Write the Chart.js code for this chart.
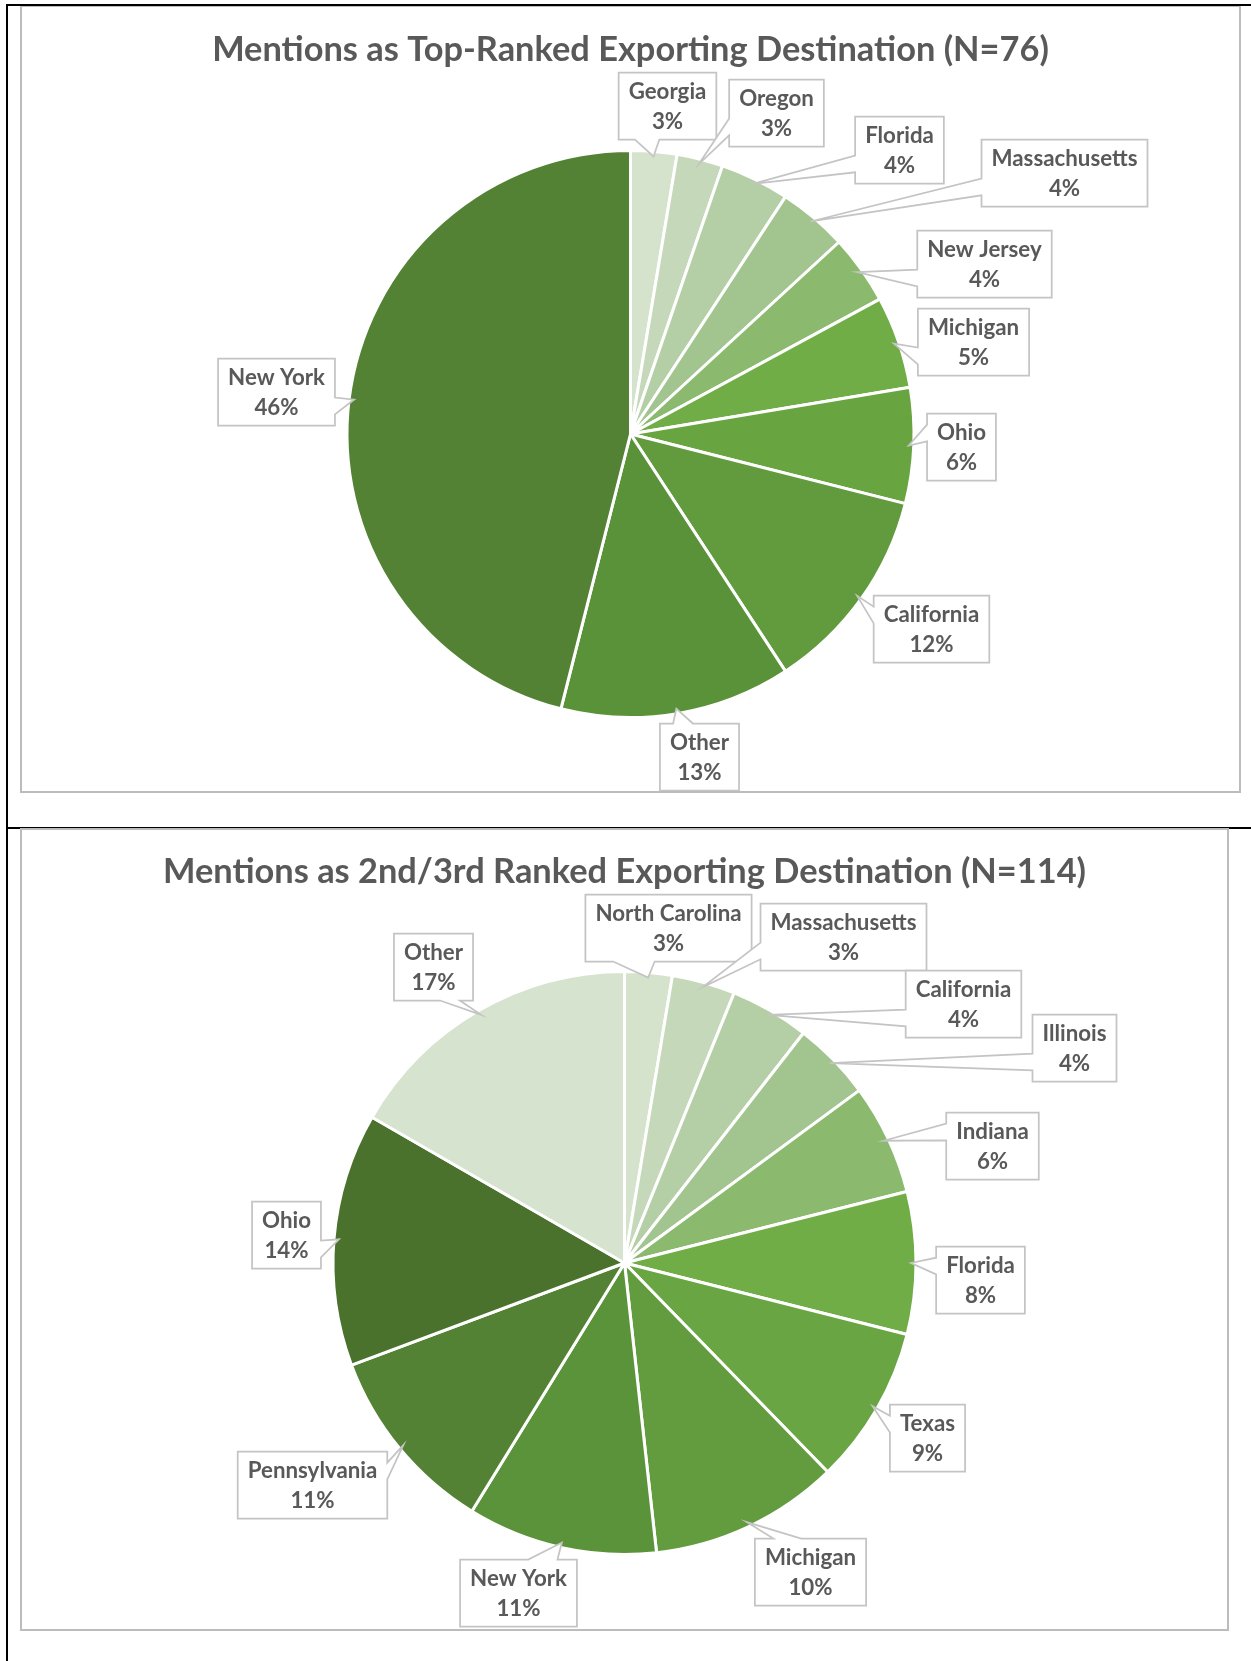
<!DOCTYPE html>
<html><head><meta charset="utf-8">
<script src="https://cdn.jsdelivr.net/npm/chart.js@4.4.0/dist/chart.umd.min.js"></script>
<style>
html,body{margin:0;padding:0;background:#fff;}
body{width:1251px;height:1661px;position:relative;overflow:hidden;}
.abs{position:absolute;}
.frame{border:2px solid #bcbcbc;box-sizing:border-box;pointer-events:none;}
</style></head><body>
<div class="abs" style="left:6px;top:4px;width:2px;height:1657px;background:#000"></div>
<div class="abs" style="left:6px;top:827px;width:1245px;height:2px;background:#000"></div>
<canvas id="c1" class="abs" style="left:21px;top:6px;" width="1219" height="786"></canvas>
<div class="abs frame" style="left:20px;top:5px;width:1221px;height:788px;"></div>
<div class="abs" style="left:6px;top:4px;width:1245px;height:2px;background:#000"></div>
<div class="abs" style="left:20px;top:828px;width:1209px;height:803px;background:#fff;"></div>
<canvas id="c2" class="abs" style="left:21px;top:829px;" width="1207" height="801"></canvas>
<div class="abs frame" style="left:20px;top:828px;width:1209px;height:803px;"></div>
<script>
// ---------- data ----------
const title1 = 'Mentions as Top-Ranked Exporting Destination (N=76)';
const states1 = ['Georgia','Oregon','Florida','Massachusetts','New Jersey','Michigan','Ohio','California','Other','New York'];
const mentions1 = [2,2,3,3,3,4,5,9,10,35];
const pctLabels1 = ['3%','3%','4%','4%','4%','5%','6%','12%','13%','46%'];

const title2 = 'Mentions as 2nd/3rd Ranked Exporting Destination (N=114)';
const states2 = ['North Carolina','Massachusetts','California','Illinois','Indiana','Florida','Texas','Michigan','New York','Pennsylvania','Ohio','Other'];
const mentions2 = [3,4,5,5,7,9,10,12,12,12,16,19];
const pctLabels2 = ['3%','3%','4%','4%','6%','8%','9%','10%','11%','11%','14%','17%'];

// ---------- styles / label placement ----------
const colors1 = ['#d5e3cd','#c5d9ba','#b4cea5','#a2c590','#8bb96e','#70ad47','#68a541','#619b3d','#5a9239','#548235'];
const colors2 = ['#d5e3cd','#c5d9ba','#b4cea5','#a2c590','#8bb96e','#70ad47','#69a542','#629c3e','#5b933a','#548235','#4a722d','#d6e3cf'];
const labelOffsets1 = [[37,-328],[146,-321],[269,-284],[434,-261],[354,-170],[343,-92],[331,13],[301,195],[69,323],[-354,-42]];
const labelOffsets2 = [[44,-335],[219,-326],[339,-259],[450,-215],[368,-117],[356,17],[303,175],[186,309],[-106,330],[-312,222],[-338,-28],[-191,-296]];

const FONT = 'Lato, "Open Sans", sans-serif';
function fitSize(text, target){
  const c = document.createElement('canvas').getContext('2d');
  c.font = 'bold 100px ' + FONT;
  return 100 * target / c.measureText(text).width;
}
const titleSize = (fitSize(title1, 837) + fitSize(title2, 924)) / 2;
const labelSize = fitSize('Massachusetts', 146);

function drawCallout(ctx, l, t, w, h, px, py){
  const r = l + w, b = t + h, hc = l + w/2, vc = t + h/2;
  const dxPos = px - hc, dyPos = py - vc;
  const dq = dxPos * h / w;
  const dz = Math.abs(dyPos) - Math.abs(dq);
  const xg1 = dxPos > 0 ? 7 : 2, xg2 = dxPos > 0 ? 10 : 5;
  const yg1 = dyPos > 0 ? 7 : 2, yg2 = dyPos > 0 ? 10 : 5;
  const x1 = l + w*xg1/12, x2 = l + w*xg2/12;
  const y1 = t + h*yg1/12, y2 = t + h*yg2/12;
  const xl = dz > 0 ? l : (dxPos > 0 ? l : px);
  const yl = dz > 0 ? y1 : (dxPos > 0 ? y1 : py);
  const xt = dz > 0 ? (dyPos > 0 ? x1 : px) : x1;
  const yt = dz > 0 ? (dyPos > 0 ? t : py) : t;
  const xr = dz > 0 ? r : (dxPos > 0 ? px : r);
  const yr = dz > 0 ? y1 : (dxPos > 0 ? py : y1);
  const xb = dz > 0 ? (dyPos > 0 ? px : x1) : x1;
  const yb = dz > 0 ? (dyPos > 0 ? py : b) : b;
  ctx.beginPath();
  ctx.moveTo(l,t); ctx.lineTo(x1,t); ctx.lineTo(xt,yt); ctx.lineTo(x2,t); ctx.lineTo(r,t);
  ctx.lineTo(r,y1); ctx.lineTo(xr,yr); ctx.lineTo(r,y2); ctx.lineTo(r,b);
  ctx.lineTo(x2,b); ctx.lineTo(xb,yb); ctx.lineTo(x1,b); ctx.lineTo(l,b);
  ctx.lineTo(l,y2); ctx.lineTo(xl,yl); ctx.lineTo(l,y1); ctx.closePath();
  ctx.fillStyle = '#ffffff'; ctx.fill();
  ctx.strokeStyle = '#c4c4c4'; ctx.lineWidth = 1.75; ctx.lineJoin = 'miter'; ctx.stroke();
}

const calloutPlugin = {
  id: 'callouts',
  afterDatasetsDraw(chart, args, opts){
    const ctx = chart.ctx;
    const meta = chart.getDatasetMeta(0);
    ctx.save();
    ctx.font = 'bold ' + labelSize + 'px ' + FONT;
    meta.data.forEach((arc, i) => {
      const p = arc.getProps(['x','y','startAngle','endAngle','outerRadius'], true);
      const mid = (p.startAngle + p.endAngle) / 2;
      const rr = p.outerRadius - 5;
      const ax = p.x + Math.cos(mid) * rr, ay = p.y + Math.sin(mid) * rr;
      const l1 = chart.data.labels[i], l2 = opts.pcts[i];
      const tw = Math.max(ctx.measureText(l1).width, ctx.measureText(l2).width);
      const w = tw + 20, h = 67;
      const cx = p.x + opts.offsets[i][0], cy = p.y + opts.offsets[i][1];
      drawCallout(ctx, cx - w/2, cy - h/2, w, h, ax, ay);
      ctx.fillStyle = '#595959'; ctx.textAlign = 'center'; ctx.textBaseline = 'middle';
      ctx.fillText(l1, cx, cy - 14);
      ctx.fillText(l2, cx, cy + 15.5);
    });
    ctx.restore();
  }
};

function makePie(id, title, labels, values, colors, pcts, offsets, radius, titleY, areaTop, padBottom){
  new Chart(document.getElementById(id), {
    type: 'pie',
    data: { labels: labels, datasets: [{ data: values, backgroundColor: colors, borderColor: '#ffffff', borderWidth: 3 }] },
    options: {
      responsive: false, animation: false, devicePixelRatio: 1,
      radius: radius,
      layout: { padding: { top: 0, bottom: padBottom, left: 0, right: 0 } },
      plugins: {
        legend: { display: false },
        tooltip: { enabled: false },
        title: {
          display: true, text: title, color: '#595959',
          font: { family: FONT, size: titleSize, weight: 'bold', lineHeight: 1.2 },
          padding: { top: titleY - titleSize*0.6, bottom: areaTop - titleY - titleSize*0.6 }
        },
        callouts: { pcts: pcts, offsets: offsets }
      }
    },
    plugins: [calloutPlugin]
  });
}
makePie('c1', title1, states1, mentions1, colors1, pctLabels1, labelOffsets1, 283.5, 44, 146, 76);
makePie('c2', title2, states2, mentions2, colors2, pctLabels2, labelOffsets2, 291.5, 43, 146, 79);
</script>
</body></html>
